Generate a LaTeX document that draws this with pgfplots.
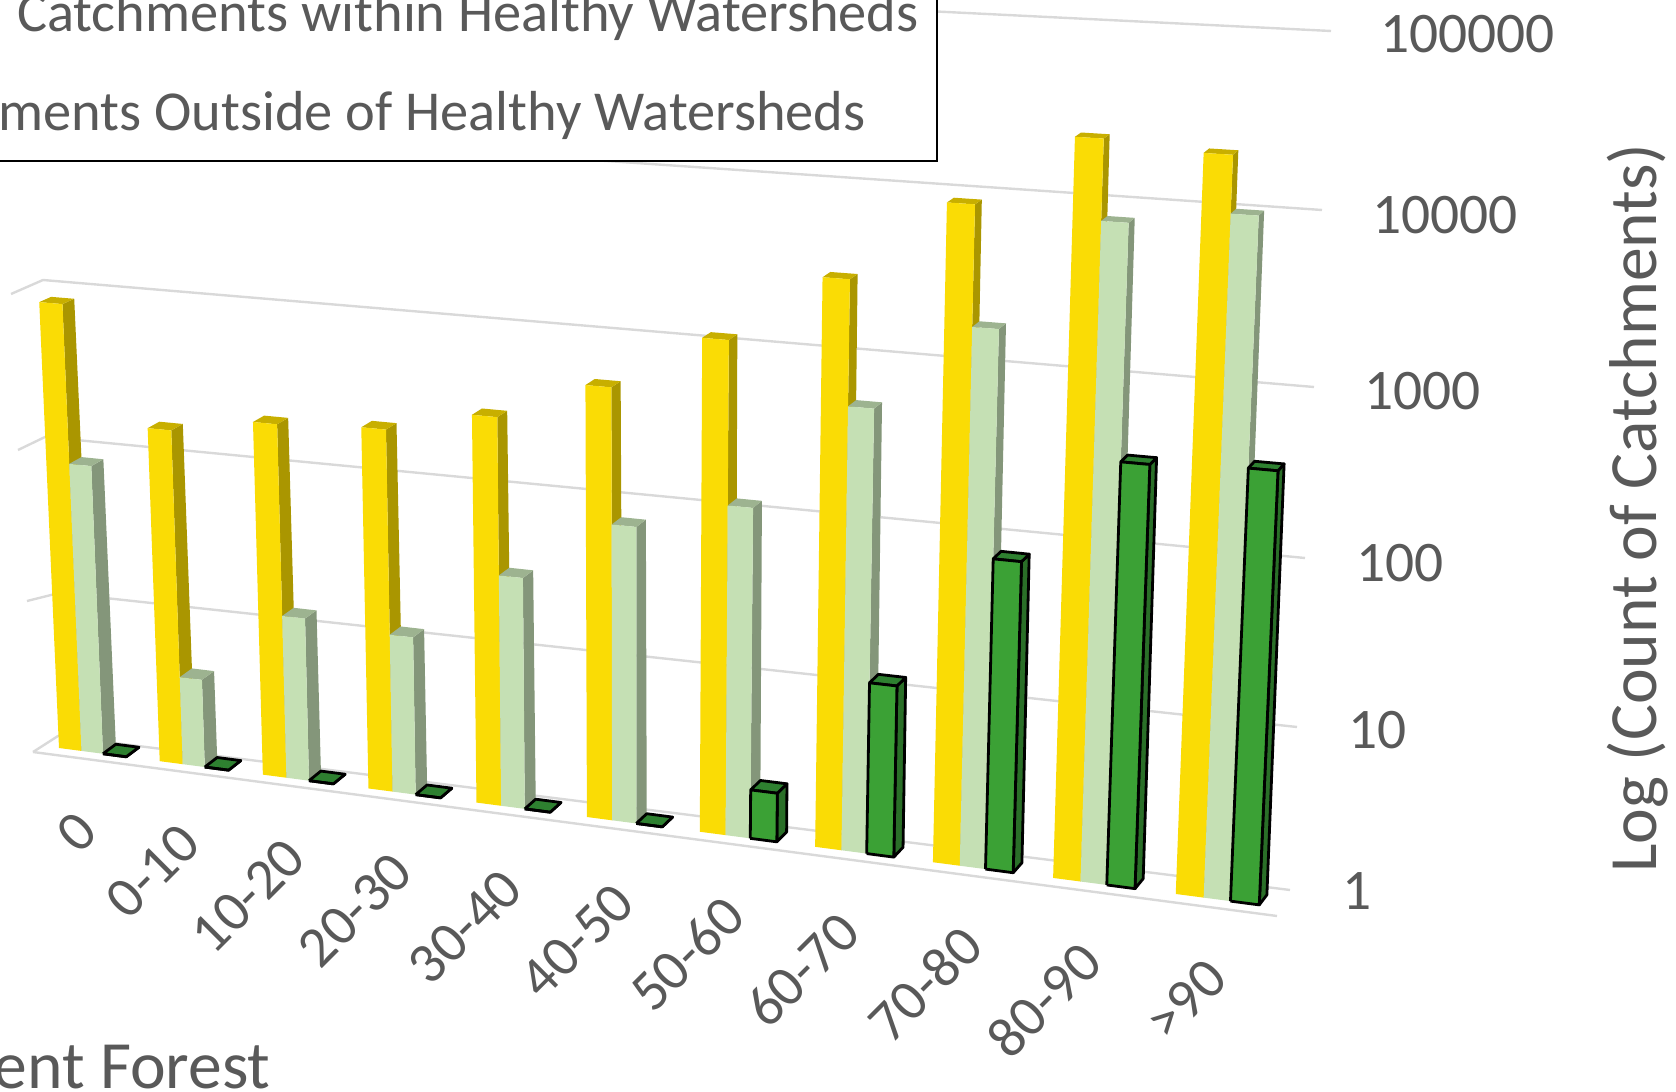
\documentclass[border=0pt]{standalone}
\usepackage{pgfplots}
\usepackage{pgfplotstable}
\usepackage{fontspec}
\setmainfont{Carlito}
\pgfplotsset{compat=1.18}
\definecolor{txt}{HTML}{595959}
\definecolor{gridc}{HTML}{D9D9D9}
\definecolor{Yf}{HTML}{FADC05}\definecolor{Ys}{HTML}{AA9600}\definecolor{Yt}{HTML}{C8AF00}
\definecolor{Lf}{HTML}{C5E0B4}\definecolor{Ls}{HTML}{84967A}\definecolor{Lt}{HTML}{9DB390}
\definecolor{Gf}{HTML}{3BA135}\definecolor{Gs}{HTML}{2A6F28}\definecolor{Gt}{HTML}{2E8030}
% category index, catchments per series
\pgfplotstableread{
cat within outside healthy
0 760 74 1
1 140 3.7 1
2 177 11 1
3 190 10 1
4 262 28 1
5 457 68 1
6 1000 104 2
7 2570 468 11
8 7760 1550 72
9 20200 7000 309
10 18200 8600 331
}\catchdata
% projection of (position along the category axis, depth, log count) to the picture
\newcommand\proj[5]{%
  \pgfmathsetmacro\prs{(99.5*(#1)+1.2175*(#1)*(#1))/1117}%
  \pgfmathsetmacro\prt{((#3)+0.01*(#3)*((#3)-1))/5.2}%
  \pgfmathsetmacro\pxl{(1-#2)*((1-\prt)*59+\prt*24)+(#2)*((1-\prt)*72+\prt*35)}%
  \pgfmathsetmacro\pxr{(1-#2)*((1-\prt)*1176+\prt*1209)+(#2)*((1-\prt)*1184+\prt*1214)}%
  \pgfmathsetmacro\pyl{(1-#2)*((1-\prt)*748+\prt*(-42))+(#2)*((1-\prt)*738.5+\prt*(-44))}%
  \pgfmathsetmacro\pyr{(1-#2)*((1-\prt)*894+\prt*18)+(#2)*((1-\prt)*884+\prt*14.5)}%
  \pgfmathsetmacro#4{(1-\prs)*\pxl+\prs*\pxr}%
  \pgfmathsetmacro#5{(1-\prs)*\pyl+\prs*\pyr}%
}
% #1 row, #2 column, #3 offset, #4 bar width, #5 front #6 side #7 top, #8 draw options
\newcommand\onebar[8]{%
  \pgfplotstablegetelem{#1}{#2}\of\catchdata
  \begingroup
  \pgfkeys{/pgf/fpu=true,/pgf/fpu/output format=fixed}%
  \pgfmathparse{log10(\pgfplotsretval)}%
  \global\let\hh\pgfmathresult
  \endgroup
  \pgfmathsetmacro\cL{#1+#3}\pgfmathsetmacro\cR{#1+#3+#4}%
  \proj{\cL}{0}{0}\qax\qay \proj{\cR}{0}{0}\qbx\qby
  \proj{\cR}{0}{\hh}\qcx\qcy \proj{\cL}{0}{\hh}\qdx\qdy
  \proj{\cR}{1}{0}\qex\qey \proj{\cR}{1}{\hh}\qfx\qfy \proj{\cL}{1}{\hh}\qgx\qgy
  \edef\temp{\noexpand\addplot[fill=#6,#8] coordinates {(\qbx,\qby) (\qex,\qey) (\qfx,\qfy) (\qcx,\qcy) (\qbx,\qby)};
    \noexpand\addplot[fill=#7,#8] coordinates {(\qdx,\qdy) (\qcx,\qcy) (\qfx,\qfy) (\qgx,\qgy) (\qdx,\qdy)};
    \noexpand\addplot[fill=#5,#8] coordinates {(\qax,\qay) (\qbx,\qby) (\qcx,\qcy) (\qdx,\qdy) (\qax,\qay)};}%
  \temp
}
\newcommand\gl[1]{\addplot[gridc,line width=1.2pt] coordinates {#1};}
\begin{document}
\begin{tikzpicture}
\begin{axis}[at={(0,0)},anchor=south west,scale only axis,width=838pt,height=546pt,
  xmin=0,xmax=1676,ymin=0,ymax=1092,y dir=reverse,hide axis,clip=false,no markers]
\gl{(33,752) (58,736) (1290,890)}
\gl{(33,752) (1277,916)}
\gl{(27,601) (59,593) (1297,727)}
\gl{(18,450) (45,437) (1305,558)}
\gl{(11,294) (43,280) (1314,387)}
\gl{(3,140) (38,122) (1322,210)}
\gl{(400,-15) (1331,31)}
\pgfplotsinvokeforeach{0,...,10}{%
  \onebar{#1}{within}{0}{0.225}{Yf}{Ys}{Yt}{draw=none}
  \onebar{#1}{outside}{0.225}{0.215}{Lf}{Ls}{Lt}{draw=none}
  \onebar{#1}{healthy}{0.44}{0.23}{Gf}{Gs}{Gt}{draw=black,line width=1.4pt,line join=round}
}
\end{axis}
\begin{scope}[x=0.5pt,y=-0.5pt,shift={(0,-1092)}]
\fill[white] (-10,-10) rectangle (937,161);
\draw[black,line width=1.2pt] (-10,161) -- (937,161) -- (937,-10);
\begin{scope}[every node/.style={text=txt,inner sep=0pt,font=\fontsize{28.2}{31}\selectfont}]
\node[anchor=base east] at (919,32) {Catchments within Healthy Watersheds};
\node[anchor=base east] at (866,131) {ments Outside of Healthy Watersheds};
\end{scope}
\begin{scope}[every node/.style={text=txt,inner sep=0pt,font=\fontsize{33.8}{36}\selectfont}]
\node[anchor=east] at (271,1067) {ent Forest};
\node[rotate=90] at (1638,508) {Log (Count of Catchments)};
\end{scope}
\begin{scope}[every node/.style={text=txt,inner sep=0pt,font=\fontsize{28.7}{30}\selectfont}]
\node[anchor=west] at (1342,891) {1};
\node[anchor=west] at (1348,730) {10};
\node[anchor=west] at (1356,563) {100};
\node[anchor=west] at (1364,391) {1000};
\node[anchor=west] at (1372,215) {10000};
\node[anchor=west] at (1380,34) {100000};
\node[rotate=45] at (77,832) {0};
\node[rotate=45] at (153,871) {0-10};
\node[rotate=45] at (248,896) {10-20};
\node[rotate=45] at (355,910) {20-30};
\node[rotate=45] at (465,927) {30-40};
\node[rotate=45] at (577,941) {40-50};
\node[rotate=45] at (687,954) {50-60};
\node[rotate=45] at (802,970) {60-70};
\node[rotate=45] at (925,984) {70-80};
\node[rotate=45] at (1044,1000) {80-90};
\node[rotate=45] at (1186,1000) {>90};
\end{scope}
\end{scope}
\pgfresetboundingbox
\useasboundingbox (0,0) rectangle (838pt,546pt);
\end{tikzpicture}
\end{document}
